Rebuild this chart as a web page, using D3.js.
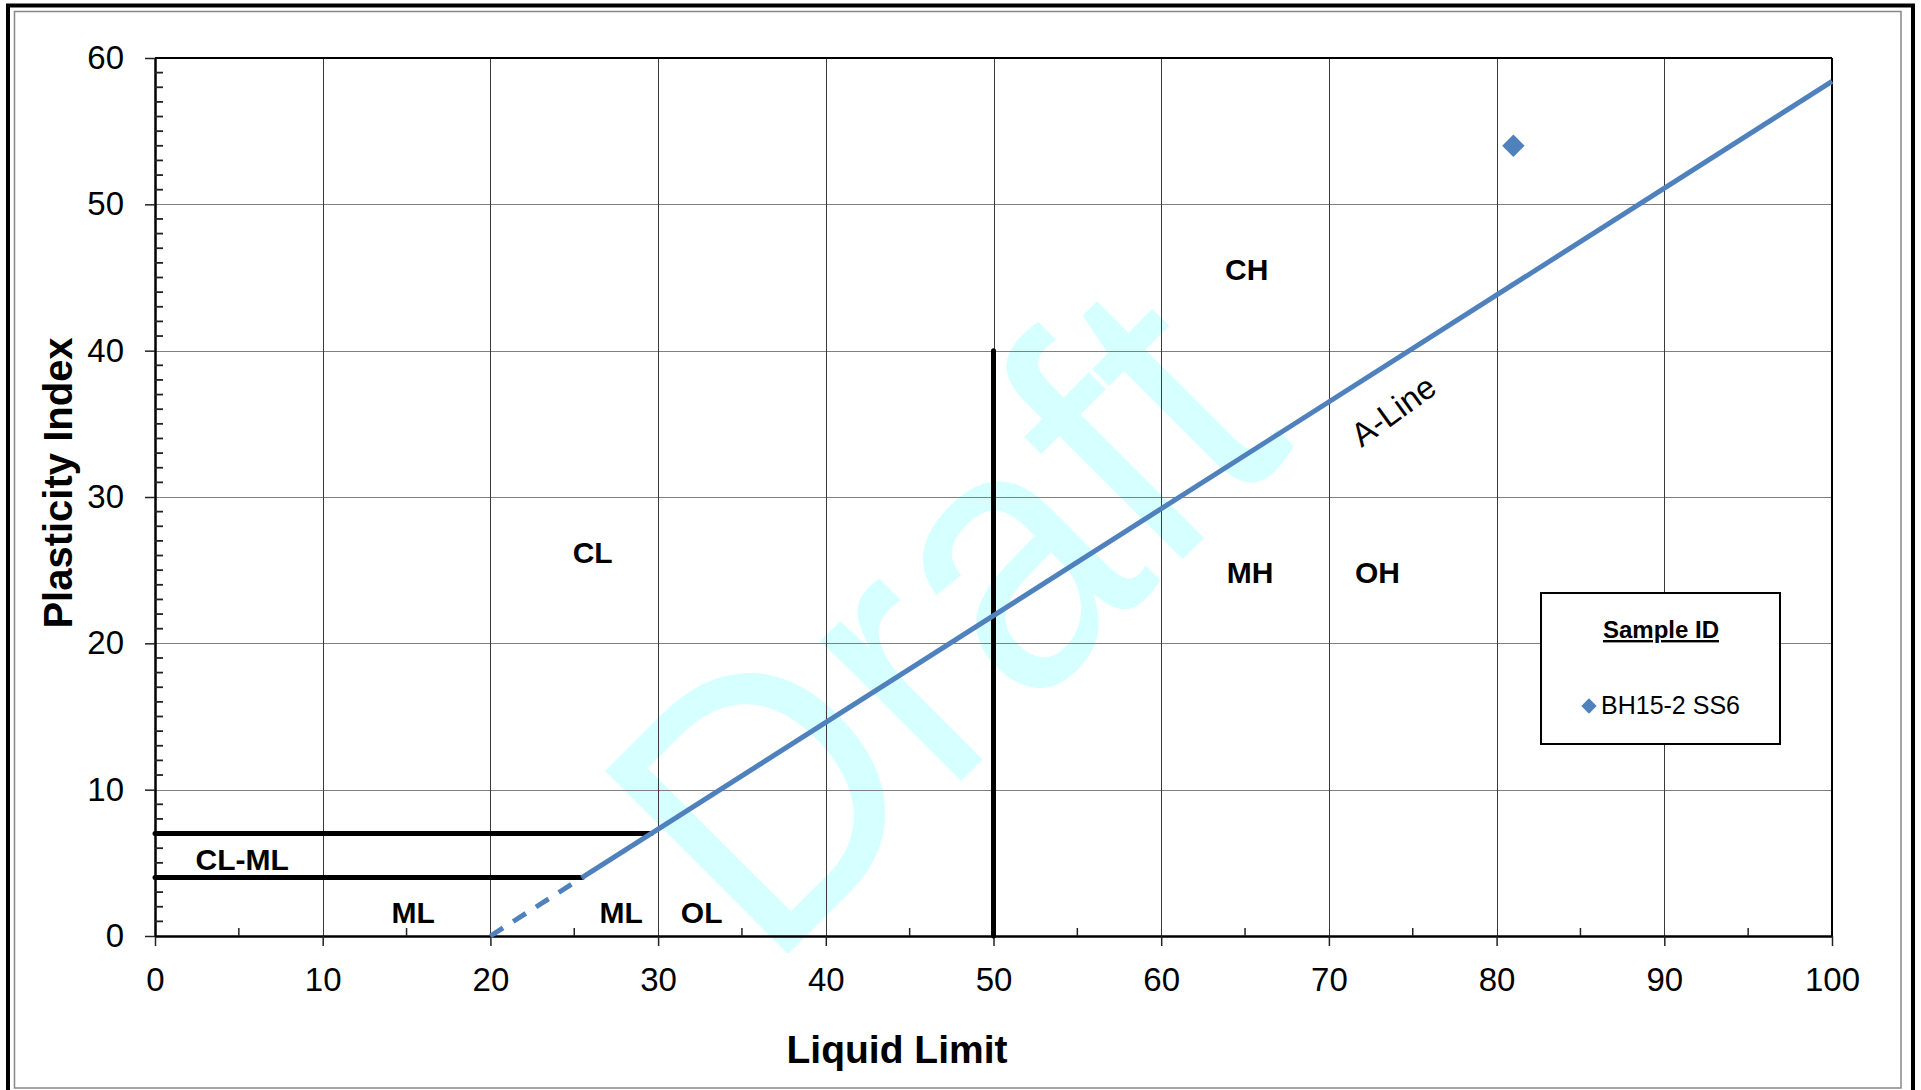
<html>
<head>
<title>Plasticity Chart</title>
<script src="https://d3js.org/d3.v7.min.js"></script>
<style>
body { margin: 0; background: #fff; }
svg { display: block; font-family: 'Liberation Sans', Arial, sans-serif; }
</style>
</head>
<body>
<div id="plot"></div>
<script>

var width = 1921;
var height = 1090;

// plot area in page pixels
var plotLeft = 155, plotRight = 1832, plotTop = 58, plotBottom = 936;

/*** Chart data ***/
var xTickValues = [0, 10, 20, 30, 40, 50, 60, 70, 80, 90, 100];
var yTickValues = [0, 10, 20, 30, 40, 50, 60];
var xMinorTicks = [5, 15, 25, 35, 45, 55, 65, 75, 85, 95];
var yMinorTicks = [1,2,3,4,5,6,7,8,9, 11,12,13,14,15,16,17,18,19, 21,22,23,24,25,26,27,28,29,
	31,32,33,34,35,36,37,38,39, 41,42,43,44,45,46,47,48,49, 51,52,53,54,55,56,57,58,59];

// A-line: PI = 0.73 (LL - 20)
var aLineDashed = [[20, 0], [25.48, 4]];
var aLineSolid = [[25.48, 4], [100, 58.4]];

// black boundary lines
var boundaryLines = [
	[[0, 7], [29.59, 7]],
	[[0, 4], [25.48, 4]],
	[[50, 0], [50, 40]]
];

// zone labels (LL, PI of baseline centre)
var zoneNames = ["CL-ML", "ML", "ML", "OL", "CL", "CH", "MH", "OH"];
var zoneLL = [5.2, 15.4, 27.8, 32.6, 26.1, 65.1, 65.3, 72.9];
var zonePI = [4.5, 0.9, 0.9, 0.9, 25.5, 44.8, 24.1, 24.1];

// samples
var sampleIds = ["BH15-2 SS6"];
var sampleLL = [81];
var samplePI = [54];

var blue = "#4f81bd";

var svg = d3.select("#plot").append("svg")
.attr("width", width).attr("height", height);

// outer frame
svg.append("rect").attr("x", 8).attr("y", 5.5).attr("width", 1905).attr("height", 1100)
.style("fill", "none").style("stroke", "#000").style("stroke-width", 4);
svg.append("rect").attr("x", 14.5).attr("y", 11.5).attr("width", 1886.5).attr("height", 1076.5)
.style("fill", "none").style("stroke", "#888").style("stroke-width", 1.5);

var xScale = d3.scaleLinear().domain([0, 100]).range([plotLeft, plotRight]);
var yScale = d3.scaleLinear().domain([0, 60]).range([plotBottom, plotTop]);

// watermark
var wmX = 768, wmY = 974;
svg.append("text")
.attr("transform", "translate(" + wmX + "," + wmY + ") rotate(-45) scale(1,1.09)")
.style("font-size", "345px").style("fill", "#d6ffff")
.text("Draft");

// gridlines
svg.append("g").selectAll("line").data(yTickValues.slice(1)).enter().append("line")
.attr("x1", plotLeft).attr("x2", plotRight)
.attr("y1", function (d) { return Math.round(yScale(d)) + 0.5; })
.attr("y2", function (d) { return Math.round(yScale(d)) + 0.5; })
.style("stroke", "#808080").style("stroke-width", 1.2);

svg.append("g").selectAll("line").data(xTickValues.slice(1, -1)).enter().append("line")
.attr("x1", function (d) { return Math.round(xScale(d)) + 0.5; })
.attr("x2", function (d) { return Math.round(xScale(d)) + 0.5; })
.attr("y1", plotTop).attr("y2", plotBottom)
.style("stroke", "#3a3a3a").style("stroke-width", 1);

// plot frame top / right
svg.append("line").attr("x1", plotLeft).attr("x2", plotRight).attr("y1", plotTop).attr("y2", plotTop)
.style("stroke", "#000").style("stroke-width", 2);
svg.append("line").attr("x1", plotRight).attr("x2", plotRight).attr("y1", plotTop).attr("y2", plotBottom)
.style("stroke", "#000").style("stroke-width", 2);

// axes
var xAxis = d3.axisBottom(xScale).tickValues(xTickValues).tickSizeInner(10).tickSizeOuter(0).tickPadding(8);
var gx = svg.append("g").attr("transform", "translate(0," + plotBottom + ")").call(xAxis);
gx.select(".domain").style("stroke", "#000").style("stroke-width", 2.5);
gx.selectAll(".tick line").style("stroke", "#222").style("stroke-width", 1.5);
gx.selectAll(".tick text").style("font-size", "33px").style("fill", "#000")
.attr("dy", "0").attr("y", 55);

var yAxis = d3.axisLeft(yScale).tickValues(yTickValues).tickSizeInner(10).tickSizeOuter(0).tickPadding(21);
var gy = svg.append("g").attr("transform", "translate(" + plotLeft + ",0)").call(yAxis);
gy.select(".domain").style("stroke", "#000").style("stroke-width", 2.5);
gy.selectAll(".tick line").style("stroke", "#222").style("stroke-width", 1.5);
gy.selectAll(".tick text").style("font-size", "33px").style("fill", "#000");

// minor ticks (inside)
svg.append("g").selectAll("line").data(xMinorTicks).enter().append("line")
.attr("x1", function (d) { return xScale(d); }).attr("x2", function (d) { return xScale(d); })
.attr("y1", plotBottom).attr("y2", plotBottom - 8)
.style("stroke", "#222").style("stroke-width", 1.5);
svg.append("g").selectAll("line").data(yMinorTicks).enter().append("line")
.attr("x1", plotLeft).attr("x2", plotLeft + 8)
.attr("y1", function (d) { return yScale(d); }).attr("y2", function (d) { return yScale(d); })
.style("stroke", "#222").style("stroke-width", 1.8);

// boundary lines
var line = d3.line().x(function (d) { return xScale(d[0]); }).y(function (d) { return yScale(d[1]); });

svg.append("g").selectAll("path").data(boundaryLines).enter().append("path")
.attr("d", line)
.style("fill", "none").style("stroke", "#000").style("stroke-width", 5)
.style("stroke-linecap", "round");

// A-line
svg.append("path").attr("d", line(aLineDashed))
.style("fill", "none").style("stroke", blue).style("stroke-width", 5)
.style("stroke-dasharray", "15,12");
svg.append("path").attr("d", line(aLineSolid))
.style("fill", "none").style("stroke", blue).style("stroke-width", 5);

svg.append("text")
.attr("transform", "translate(1400,420) rotate(-36)")
.attr("text-anchor", "middle")
.style("font-size", "33px")
.text("A-Line");

// zone labels
svg.append("g").selectAll("text").data(zoneNames).enter().append("text")
.attr("x", function (d, i) { return xScale(zoneLL[i]); })
.attr("y", function (d, i) { return yScale(zonePI[i]); })
.attr("text-anchor", "middle")
.style("font-size", "30px").style("font-weight", "bold")
.text(function (d) { return d; });

// sample points
var diamond = d3.symbol().type(d3.symbolDiamond2).size(320);
svg.append("g").selectAll("path").data(sampleIds).enter().append("path")
.attr("d", diamond)
.attr("transform", function (d, i) { return "translate(" + xScale(sampleLL[i]) + "," + yScale(samplePI[i]) + ")"; })
.style("fill", blue);

// axis titles
svg.append("text").attr("x", 897).attr("y", 1063).attr("text-anchor", "middle")
.style("font-size", "39px").style("font-weight", "bold")
.text("Liquid Limit");

svg.append("text").attr("transform", "translate(72,483) rotate(-90)").attr("text-anchor", "middle")
.style("font-size", "40px").style("font-weight", "bold")
.text("Plasticity Index");

// legend
var legend = svg.append("g");
legend.append("rect").attr("x", 1541).attr("y", 593).attr("width", 239).attr("height", 151)
.style("fill", "#fff").style("stroke", "#000").style("stroke-width", 2);
legend.append("text").attr("x", 1661).attr("y", 638).attr("text-anchor", "middle")
.style("font-size", "24px").style("font-weight", "bold").style("text-decoration", "underline")
.text("Sample ID");
legend.selectAll(".item").data(sampleIds).enter().append("g").attr("class", "item")
.each(function (d, i) {
	var g = d3.select(this);
	g.append("path").attr("d", d3.symbol().type(d3.symbolDiamond2).size(150))
	.attr("transform", "translate(1589," + (706 + i * 30) + ")")
	.style("fill", blue);
	g.append("text").attr("x", 1601).attr("y", 714 + i * 30)
	.style("font-size", "25px")
	.text(d);
});

</script>
</body>
</html>
